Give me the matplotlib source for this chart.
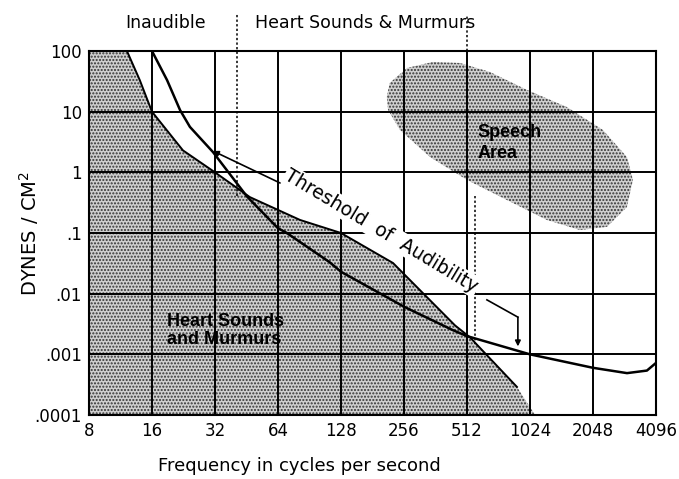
import matplotlib
matplotlib.use("Agg")
import matplotlib.pyplot as plt

# axis ticks
freq_ticks = [8, 16, 32, 64, 128, 256, 512, 1024, 2048, 4096]
dyne_ticks = [0.0001, 0.001, 0.01, 0.1, 1, 10, 100]
dyne_labels = ['.0001', '.001', '.01', '.1', '1', '10', '100']

# threshold of audibility curve
thresh_freq = [16, 18.9, 21.8, 24.3, 31.3, 45.5, 64, 70.6, 113, 128, 256, 439, 512, 1024, 2048, 2980, 3710, 4096]
thresh_dyn = [100, 33, 10.6, 5.6, 2.16, 0.40, 0.12, 0.1, 0.033, 0.023, 0.0061, 0.0025, 0.0020, 0.001, 0.0006, 0.00049, 0.00054, 0.00072]

# heart sounds & murmurs region, upper edge
heart_freq = [12.15, 14.0, 16, 22.5, 32, 47, 81.6, 128, 227, 449, 530, 888]
heart_dyn = [100, 33, 10, 2.3, 1.0, 0.39, 0.164, 0.1, 0.032, 0.0030, 0.0019, 0.00029]
heart_end = (1083, 0.0001)

# speech area outline
speech_freq = [212, 219, 265, 352, 474, 659, 991, 1538, 2286, 2977, 3180, 2977, 2389, 1775, 1234, 795, 512, 341, 245, 215]
speech_dyn = [17.5, 29.7, 52.5, 65.9, 63.4, 45.1, 22.8, 11.9, 4.99, 1.79, 0.75, 0.268, 0.126, 0.112, 0.164, 0.35, 0.75, 1.79, 4.99, 10.7]

fig = plt.figure(figsize=(6.79, 4.79), dpi=100)
ax = fig.add_axes([0.131, 0.1336, 0.835, 0.760])

ax.set_xscale('log', base=2)
ax.set_yscale('log')
ax.set_xlim(8, 4096)
ax.set_ylim(0.0001, 100)

# shaded regions (stippled)
hx = [8] + heart_freq + [heart_end[0], 8]
hy = [100] + heart_dyn + [heart_end[1], 0.0001]
ax.fill(hx, hy, facecolor='#cfcfcf', edgecolor='#333333', hatch='.....', linewidth=0, zorder=1)
ax.fill(speech_freq, speech_dyn, facecolor='#cfcfcf', edgecolor='#333333', hatch='.....', linewidth=0, zorder=1)

# curves
ax.plot(heart_freq, heart_dyn, color='black', lw=1.4, zorder=2)
ax.plot(thresh_freq, thresh_dyn, color='black', lw=1.8, zorder=2)

# grid
ax.set_xticks(freq_ticks)
ax.set_xticklabels([str(f) for f in freq_ticks])
ax.set_yticks(dyne_ticks)
ax.set_yticklabels(dyne_labels)
ax.minorticks_off()
ax.grid(True, color='black', lw=1.4)
ax.tick_params(length=0, labelsize=12, pad=5)
for s in ax.spines.values():
    s.set_linewidth(1.5)

# dotted divider lines
ax.plot([41, 41], [0.4, 420], color='black', ls=(0, (1.5, 1.5)), lw=1.1, clip_on=False, zorder=2)
ax.plot([512, 512], [100, 390], color='black', ls=(0, (1.5, 1.5)), lw=1.1, clip_on=False, zorder=2)
ax.plot([559, 559], [0.4, 0.0015], color='black', ls=(0, (1.5, 1.5)), lw=1.1, zorder=2)

# top labels
ax.text(18.5, 1.063, 'Inaudible', transform=ax.get_xaxis_transform(), ha='center', va='baseline', fontsize=12.5)
ax.text(49.7, 1.063, 'Heart Sounds & Murmurs', transform=ax.get_xaxis_transform(), ha='left', va='baseline', fontsize=12.5)

# region labels
ax.text(18.9, 0.0025, 'Heart Sounds\nand Murmurs', ha='left', va='center', fontsize=13,
        fontweight='bold', family='Liberation Sans', linespacing=1.1, zorder=3)
ax.text(578, 3.05, 'Speech\nArea', ha='left', va='center', fontsize=13,
        fontweight='bold', family='Liberation Sans', linespacing=1.3, zorder=3)

# threshold label and pointers
ax.text(200, 0.108, 'Threshold  of  Audibility', rotation=-31, rotation_mode='anchor',
        ha='center', va='center', fontsize=13.5, zorder=3,
        bbox=dict(facecolor='white', edgecolor='none', pad=1))
ax.annotate('', xy=(31.3, 2.25), xytext=(65.5, 0.667),
            arrowprops=dict(arrowstyle='-|>', lw=1.2, color='black', mutation_scale=8, shrinkA=0, shrinkB=0), zorder=3)
ax.plot([638, 897], [0.0079, 0.0041], color='black', lw=1.2, zorder=3)
ax.annotate('', xy=(897, 0.00135), xytext=(897, 0.0041),
            arrowprops=dict(arrowstyle='-|>', lw=1.2, color='black', mutation_scale=8, shrinkA=0, shrinkB=0), zorder=3)

ax.set_ylabel('DYNES / CM$^2$', fontsize=14)
ax.yaxis.set_label_coords(-0.085, 0.5)
ax.set_xlabel('Frequency in cycles per second', fontsize=13)
ax.xaxis.set_label_coords(0.372, -0.115)

fig.savefig('out.png', dpi=100)
